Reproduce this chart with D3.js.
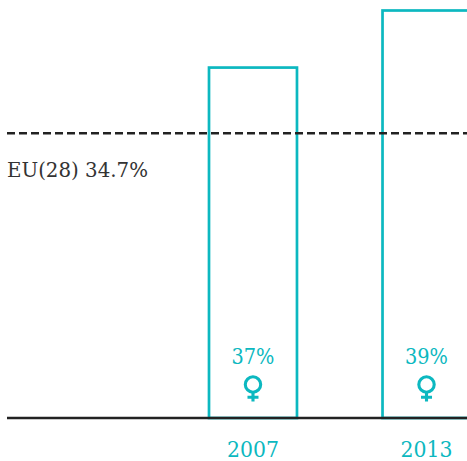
<!DOCTYPE html>
<html><head><meta charset="utf-8">
<style>html,body{margin:0;padding:0;background:#fff}svg{display:block}</style>
<script src="https://cdn.jsdelivr.net/npm/d3@7"></script></head><body>
<svg id="c" width="467" height="461"></svg>
<script>
const years = ["2007", "2013"];
const shares = [37, 39];
const refValue = 34.7;
const refLabel = "EU(28) 34.7%";
const teal = "#0cb8c0", dark = "#222";
const font = "'DejaVu Serif', serif";
const svg = d3.select("#c");
const x = d3.scaleBand().domain(years).range([209, 470.5]).paddingInner(0.493).paddingOuter(0);
const y = d3.scaleLinear().domain([24.72, 39]).range([418, 10.5]);
const g = svg.selectAll("g.bar").data(years.map((yr, i) => ({yr, v: shares[i]}))).join("g").attr("class", "bar");
g.append("rect")
  .attr("x", d => x(d.yr)).attr("y", d => y(d.v))
  .attr("width", x.bandwidth()).attr("height", d => y.range()[0] - y(d.v))
  .attr("fill", "none").attr("stroke", teal).attr("stroke-width", 2.7);
const cx = d => x(d.yr) + x.bandwidth() / 2;
g.append("text").attr("x", cx).attr("y", 364).attr("text-anchor", "middle")
  .attr("fill", teal).attr("font-family", font).attr("font-size", 22).attr("textLength", 43).attr("lengthAdjust", "spacingAndGlyphs").text(d => d.v + "%");
g.append("text").attr("x", cx).attr("y", 457).attr("text-anchor", "middle")
  .attr("fill", teal).attr("font-family", font).attr("font-size", 22).attr("textLength", 52).attr("lengthAdjust", "spacingAndGlyphs").text(d => d.yr);
const venus = g.append("g").attr("transform", d => `translate(${cx(d)},384.5)`)
  .attr("fill", "none").attr("stroke", teal).attr("stroke-width", 3.1);
venus.append("circle").attr("r", 7.7);
venus.append("path").attr("d", "M0 7.6V17M-5.5 12.8H5.5");
svg.append("line").attr("x1", 7).attr("x2", 467).attr("y1", 418).attr("y2", 418)
  .attr("stroke", dark).attr("stroke-width", 2.6);
svg.append("line").attr("x1", 7).attr("x2", 467).attr("y1", y(refValue)).attr("y2", y(refValue))
  .attr("stroke", dark).attr("stroke-width", 2.5).attr("stroke-dasharray", "8 4");
svg.append("text").attr("x", 7).attr("y", 177).attr("fill", "#333").attr("font-family", font)
  .attr("font-size", 21).attr("textLength", 141).attr("lengthAdjust", "spacingAndGlyphs").text(refLabel);
</script></body></html>
